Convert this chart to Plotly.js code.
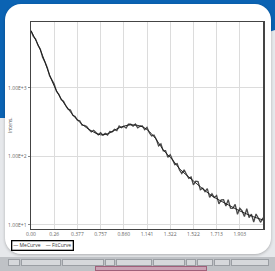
<!DOCTYPE html>
<html><head><meta charset="utf-8">
<script src="https://cdn.plot.ly/plotly-3.0.1.min.js"></script>
<style>
html,body{margin:0;padding:0;width:275px;height:271px;overflow:hidden;background:#e6e8eb;font-family:"DejaVu Sans",sans-serif;}
#blue{position:absolute;left:0;top:0;width:275px;height:130px;background:#0b63b3;clip-path:polygon(0 0,275px 0,275px 30px,7px 118px,0 118px);}
#panel{position:absolute;left:5px;top:4px;width:266px;height:250px;background:#fff;border-radius:16px;box-shadow:0 1px 3px rgba(0,0,0,0.25);}
#bar{position:absolute;left:0;top:257px;width:275px;height:14px;background:#bfc2c6;}
#bar div{position:absolute;top:2px;height:5px;background:#d6d8db;border:1px solid #9a9ea3;}
#bar .pk{background:#c9a2b4;border-color:#a0607a;}
#plot{position:absolute;left:0;top:0;width:275px;height:271px;}
</style></head>
<body>
<div id="blue"></div>
<div id="panel"></div>
<div id="bar">
 <div style="left:8px;width:10px"></div><div style="left:21px;width:38px"></div><div style="left:62px;width:40px"></div>
 <div style="left:105px;width:8px"></div><div style="left:116px;width:34px"></div><div style="left:153px;width:30px"></div>
 <div style="left:186px;width:8px"></div><div style="left:197px;width:14px"></div><div style="left:214px;width:14px"></div><div style="left:231px;width:36px"></div>
 <div class="pk" style="left:95px;top:9px;width:110px;height:3px"></div>
</div>
<div id="plot"></div>
<script>
const qValues = [0.00,0.02,0.04,0.06,0.08,0.10,0.12,0.14,0.16,0.18,0.20,0.22,0.24,0.26,0.28,0.30,0.32,0.34,0.36,0.38,0.40,0.42,0.44,0.46,0.48,0.50,0.52,0.54,0.56,0.58,0.60,0.62,0.64,0.66,0.68,0.70,0.72,0.74,0.76,0.78,0.80,0.82,0.84,0.86,0.88,0.90,0.92,0.94,0.96,0.98,1.00,1.02,1.04,1.06,1.08,1.10,1.12,1.14,1.16,1.18,1.20,1.22,1.24,1.26,1.28,1.30,1.32,1.34,1.36,1.38,1.40,1.42,1.44,1.46,1.48,1.50,1.52,1.54,1.56,1.58,1.60,1.62,1.64,1.66,1.68,1.70,1.72,1.74,1.76,1.78,1.80,1.82,1.84,1.86,1.88,1.90,1.92,1.94,1.96,1.98,2.00];
const measured = [6792,5636,5152,4169,3673,2780,2393,1982,1500,1288,1132,883,804,673,637,548,488,473,397,380,338,330,285,284,272,245,228,240,224,206,221,204,216,204,231,228,248,238,277,261,275,258,294,294,275,296,261,275,277,244,265,221,198,205,178,142,152,120,121,96.8,106,89.9,75.5,78.3,63.1,56.1,63.8,54.8,47.7,50.0,38.3,43.4,42.9,32.6,34.3,30.5,33.9,25.2,28.4,25.0,26.8,20.3,23.2,23.3,18.8,23.3,17.5,17.4,19.9,14.3,17.5,16.0,13.2,17.2,12.8,14.3,11.0,14.4,12.7,10.9,12.7];
const fitQ = [0.00,0.08,0.16,0.22,0.30,0.40,0.48,0.60,0.68,0.76,0.86,0.96,1.04,1.10,1.14,1.22,1.28,1.36,1.46,1.56,1.70,1.80,1.92,2.00];
const fitted = [6792,3590,1549,904,546,341,261,206,220,261,288,270,213,157,124,89,66,50,36,26.5,19.6,16.0,13.1,11.8];
const xTickVals = [0,0.2,0.4,0.6,0.8,1.0,1.2,1.4,1.6,1.8];
const xTickText = ['0.00','0.26','0.377','0.757','0.860','1.141','1.322','1.522','1.713','1.903'];
const yTickVals = [10,100,1000];
const yTickText = ['1.00E+1','1.00E+2','1.00E+3'];
const seriesNames = ['MeCurve','FitCurve'];
const yTitle = 'Intens.';

const traces = [
 {x:qValues,y:measured,type:'scatter',mode:'lines',name:seriesNames[0],line:{color:'#4a4a4a',width:1.3}},
 {x:fitQ,y:fitted,type:'scatter',mode:'lines',name:seriesNames[1],line:{color:'#151515',width:0.9,shape:'spline'}}
];
const layout = {
 width:275,height:271,margin:{l:31,r:12,t:22,b:42,autoexpand:false},
 paper_bgcolor:'rgba(0,0,0,0)',plot_bgcolor:'#fff',
 showlegend:false,
 annotations:[
  {xref:'paper',yref:'paper',x:-0.088,y:-0.055,xanchor:'left',yanchor:'top',showarrow:false,
   text:'\u2014 '+seriesNames[0]+'    \u2014 '+seriesNames[1],font:{size:5,color:'#333'},
   bordercolor:'#000',borderwidth:1.3,borderpad:1,bgcolor:'#fff'},
  {xref:'paper',yref:'paper',x:-0.092,y:0.5,xanchor:'center',yanchor:'middle',showarrow:false,textangle:-90,
   text:yTitle,font:{size:5,color:'#555'}}
 ],
 xaxis:{range:[0,2.0],tickvals:xTickVals,ticktext:xTickText,tickfont:{size:5,color:'#666'},showgrid:true,gridcolor:'#dcdcdc',showline:true,linecolor:'#444',linewidth:1,mirror:true,zeroline:false,ticks:'',fixedrange:true},
 yaxis:{type:'log',range:[0.94,3.96],tickvals:yTickVals,ticktext:yTickText,tickfont:{size:5,color:'#666'},showgrid:true,gridcolor:'#dcdcdc',showline:true,linecolor:'#444',linewidth:1.5,mirror:true,zeroline:false,ticks:'outside',ticklen:2,tickcolor:'#888'}
};
Plotly.newPlot('plot',traces,layout,{displayModeBar:false,staticPlot:true});
</script>
</body></html>
